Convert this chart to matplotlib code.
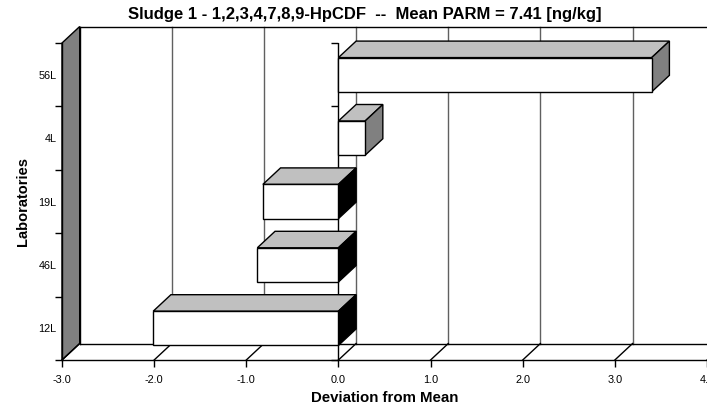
import matplotlib

matplotlib.use("Agg")
import matplotlib.pyplot as plt
from matplotlib.patches import Polygon, Rectangle

plt.rcParams["font.family"] = ["Liberation Sans", "DejaVu Sans"]

labs = ["12L", "46L", "19L", "4L", "56L"]
devs = [-2.01, -0.88, -0.82, 0.29, 3.40]
xticks = [-3.0, -2.0, -1.0, 0.0, 1.0, 2.0, 3.0, 4.0]
title = "Sludge 1 - 1,2,3,4,7,8,9-HpCDF  --  Mean PARM = 7.41 [ng/kg]"

# 3d look: depth offset in data units, bar thickness
dx, dy = 0.192, 0.26
bh = 0.54
xmin, xmax = xticks[0], xticks[-1]
n = len(labs)

fig = plt.figure(figsize=(7.07, 4.09), dpi=100)
ax = fig.add_axes([62 / 707, 49 / 409, 645 / 707, 317 / 409])
ax.set_xlim(xmin, xmax)
ax.set_ylim(0, n)
ax.patch.set_visible(False)
for s in ["top", "right"]:
    ax.spines[s].set_visible(False)
ax.spines["left"].set_linewidth(1)
ax.spines["bottom"].set_linewidth(1)

# back wall
ax.add_patch(Rectangle((xmin + dx, dy), xmax - xmin, n, facecolor="white",
                       edgecolor="none", zorder=0.5, clip_on=False))
for x in xticks[1:]:
    ax.plot([x + dx, x + dx], [dy, n + dy], color="#606060", lw=1, zorder=0.6, clip_on=False)
ax.plot([xmin + dx, xmax + dx], [n + dy, n + dy], color="black", lw=1, zorder=0.7, clip_on=False)
ax.plot([xmin + dx, xmin + dx], [dy, n + dy], color="black", lw=1, zorder=0.7, clip_on=False)

# left wall
ax.add_patch(Polygon([(xmin, 0), (xmin, n), (xmin + dx, n + dy), (xmin + dx, dy)],
                     closed=True, facecolor="#808080", edgecolor="black", lw=1,
                     zorder=1, clip_on=False))

# floor
ax.plot([xmin + dx, xmax + dx], [dy, dy], color="black", lw=1, zorder=1, clip_on=False)
for x in xticks:
    ax.plot([x, x + dx], [0, dy], color="black", lw=1, zorder=1, clip_on=False)

# zero line with inner ticks
ax.plot([0, 0], [0, n], color="black", lw=1, zorder=2)
ax.plot([0] * (n + 1), range(n + 1), ls="none", marker=0, ms=5, mew=1,
        color="black", zorder=2, clip_on=False)

# bars
ys = [i + 0.5 for i in range(n)]
ax.barh(ys, devs, height=bh, color="white", edgecolor="black", lw=1, zorder=4)
for y, v in zip(ys, devs):
    x0, x1 = min(0, v), max(0, v)
    yt, yb = y + bh / 2, y - bh / 2
    ax.add_patch(Polygon([(x0, yt), (x1, yt), (x1 + dx, yt + dy), (x0 + dx, yt + dy)],
                         closed=True, facecolor="#c0c0c0", edgecolor="black", lw=1,
                         zorder=3, clip_on=False))
    side = "#808080" if v > 0 else "black"
    ax.add_patch(Polygon([(x1, yb), (x1, yt), (x1 + dx, yt + dy), (x1 + dx, yb + dy)],
                         closed=True, facecolor=side, edgecolor="black", lw=1,
                         zorder=3, clip_on=False))

ax.set_xticks(xticks)
ax.set_xticklabels([f"{t:.1f}" for t in xticks], fontsize=7.8)
ax.tick_params(axis="x", length=5, width=1, pad=6)
ax.set_yticks(ys)
ax.set_yticklabels(labs, fontsize=7.8)
ax.set_yticks(range(n + 1), minor=True)
ax.tick_params(axis="y", which="major", length=0, pad=4)
ax.tick_params(axis="y", which="minor", length=5, width=1)

ax.set_xlabel("Deviation from Mean", fontsize=10.8, fontweight="bold", labelpad=4)
ax.set_ylabel("Laboratories", fontsize=10.5, fontweight="bold", labelpad=6)
fig.text(365 / 707, 1 - 15 / 409, title, ha="center", va="center",
         fontsize=12, fontweight="bold")

fig.savefig("out.png", dpi=100)
